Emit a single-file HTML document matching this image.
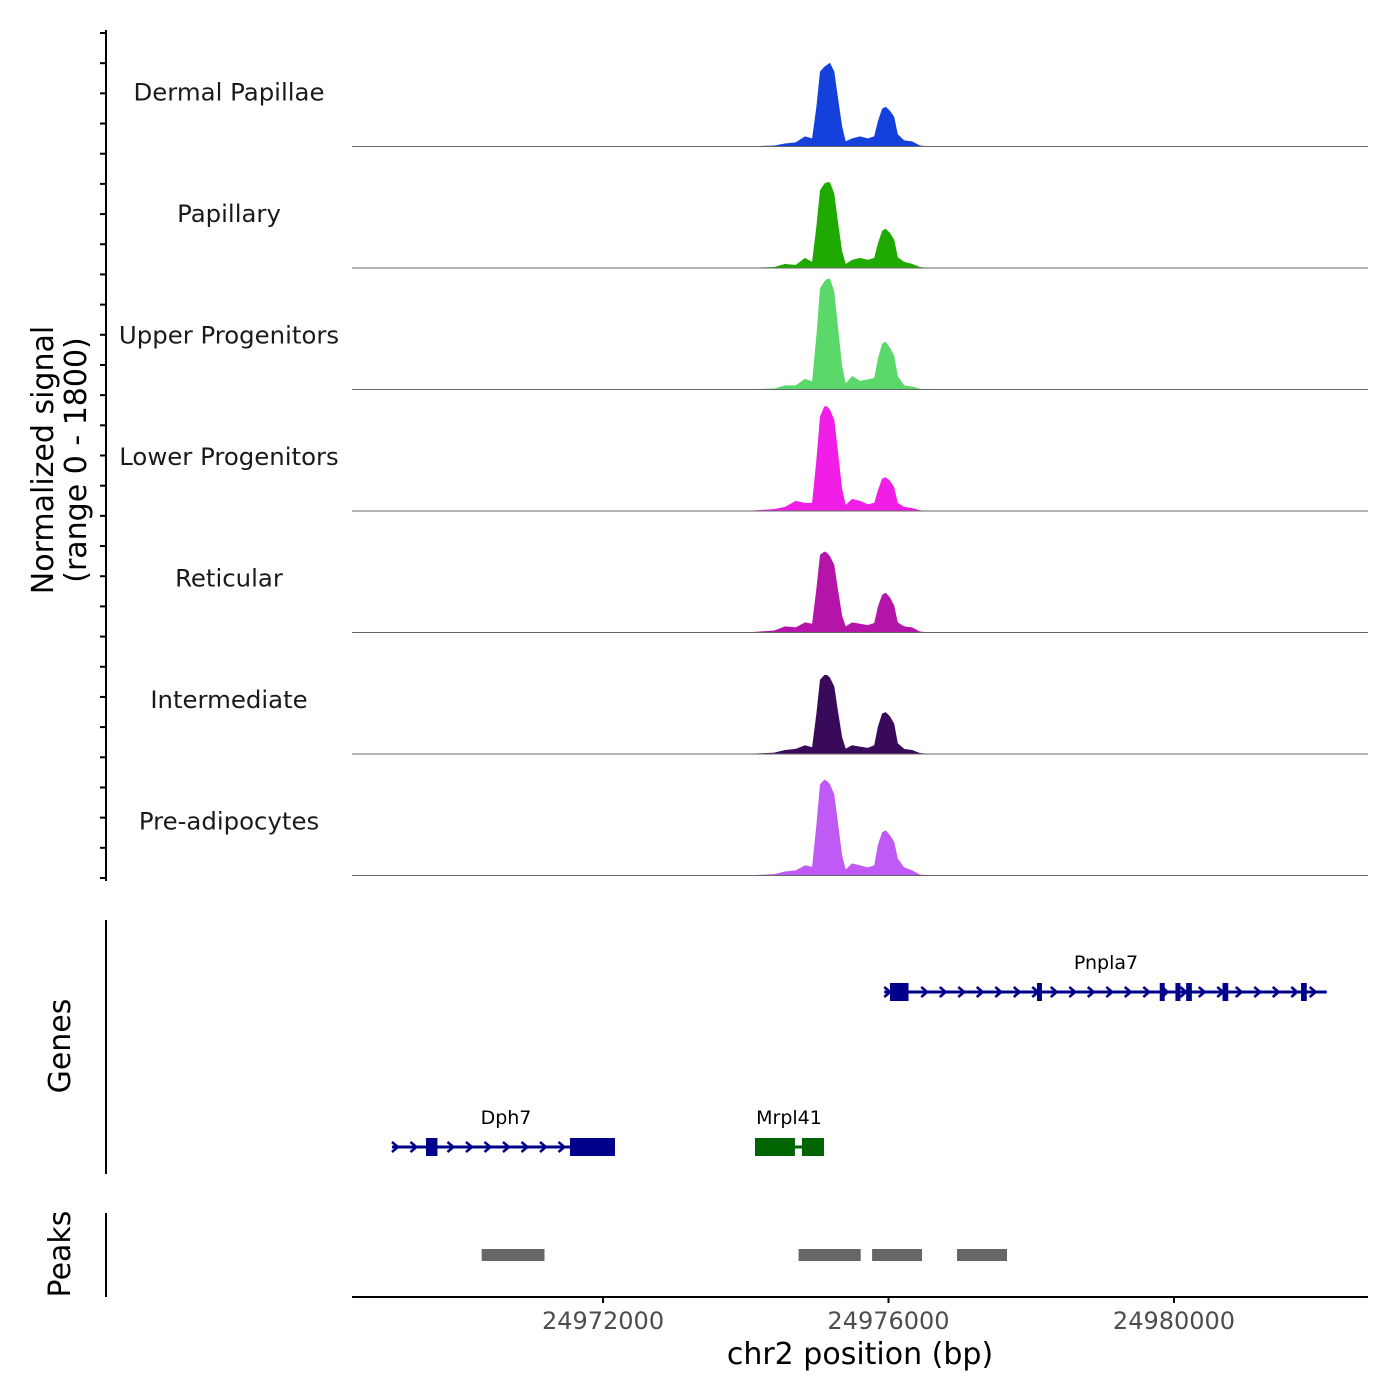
<!DOCTYPE html>
<html><head><meta charset="utf-8">
<style>
html,body{margin:0;padding:0;background:#fff;}
svg{display:block;font-family:"DejaVu Sans","Liberation Sans",sans-serif;}
</style></head>
<body>
<svg id="chart" width="1400" height="1400" viewBox="0 0 1400 1400" xmlns="http://www.w3.org/2000/svg">
<g id="tracks"></g>
<g id="genes"></g>
<g id="peaks"></g>
<g id="axes"></g>
</svg>
<script>
// ---- data ----
const xDomain = [24968483, 24982718];
const xTicks = [24972000, 24976000, 24980000];
const trackNames = ["Dermal Papillae","Papillary","Upper Progenitors","Lower Progenitors","Reticular","Intermediate","Pre-adipocytes"];
const trackColors = ["#1440dc","#1eaa00","#5ad96a","#f01ee6","#b414a8","#3a0a5a","#c05af5"];
const positions = [24968483,24974000,24974400,24974550,24974700,24974830,24974930,24974990,24975040,24975100,24975140,24975180,24975240,24975290,24975350,24975400,24975490,24975600,24975710,24975800,24975850,24975910,24975960,24976020,24976080,24976130,24976220,24976330,24976440,24976580,24982718];
const sigDermal = [0,0,15,45,60,150,120,590,1110,1180,1210,1240,1110,740,300,75,120,150,120,150,370,560,590,530,440,180,90,75,15,0,0];
const sigPapillary = [0,0,15,60,45,150,90,620,1150,1250,1270,1270,1100,700,250,60,120,150,120,150,360,550,580,520,420,160,90,60,15,0,0];
const sigUpper = [0,0,15,60,60,160,120,800,1500,1600,1640,1640,1450,950,350,90,200,130,150,170,450,680,710,620,500,200,60,45,10,0,0];
const sigLower = [0,0,30,60,150,120,120,760,1400,1550,1550,1500,1350,900,330,90,180,150,100,120,300,480,500,450,350,120,60,45,10,0,0];
const sigReticular = [0,0,30,90,75,150,130,650,1150,1200,1180,1130,1000,650,250,90,150,130,110,140,380,560,590,520,400,150,90,75,15,0,0];
const sigIntermediate = [0,0,20,60,75,130,100,600,1100,1170,1170,1130,1000,650,250,80,130,110,90,130,400,600,620,560,450,160,75,60,15,0,0];
const sigPreadipo = [0,0,20,60,75,150,130,750,1350,1420,1400,1350,1200,800,300,90,180,150,120,150,450,640,670,600,500,250,120,75,15,0,0];
const signals = [sigDermal,sigPapillary,sigUpper,sigLower,sigReticular,sigIntermediate,sigPreadipo];
const yMax = 1800;
const geneNames = ["Pnpla7","Dph7","Mrpl41"];
const geneStarts = [24975940, 24969043, 24974129];
const geneEnds = [24982140, 24972168, 24975096];
const geneRows = [0, 1, 1];
const geneExonStarts = [[24976020,24978080,24979800,24980020,24980170,24980680,24981780],[24969520,24971537],[24974129,24974787]];
const geneExonEnds = [[24976280,24978140,24979860,24980090,24980250,24980760,24981860],[24969680,24972168],[24974689,24975096]];
const peakStarts = [24970300, 24974740, 24975770, 24976960];
const peakEnds = [24971180, 24975610, 24976470, 24977660];

// ---- scales ----
const X0=352, X1=1368;
function xs(v){return X0+(v-xDomain[0])/(xDomain[1]-xDomain[0])*(X1-X0);}
const trackTop=25, trackH=121.5;
const NS="http://www.w3.org/2000/svg";
function mk(tag,attrs,parent){const e=document.createElementNS(NS,tag);for(const k in attrs)e.setAttribute(k,attrs[k]);parent.appendChild(e);return e;}

// ---- tracks ----
const gT=document.getElementById('tracks');
signals.forEach((s,i)=>{
  const base=trackTop+(i+1)*trackH;
  let d=`M${xs(positions[0])},${base}`;
  positions.forEach((p,j)=>{d+=` L${xs(p).toFixed(1)},${(base-s[j]/yMax*trackH).toFixed(1)}`;});
  d+=` L${xs(positions[positions.length-1])},${base} Z`;
  const a=mk('path',{d:d,fill:trackColors[i]},gT);
  
  
  const l=mk('line',{x1:X0,x2:X1,y1:base,y2:base,stroke:'#666',"stroke-width":1},gT);
  
  
  const t=mk('text',{x:229,y:base-46,"text-anchor":"middle","font-size":24.4,fill:"#1a1a1a"},gT);
  t.textContent=trackNames[i];
  
  
});

// ---- genes ----
const gG=document.getElementById('genes');
const rowY=[992,1147];
const geneColors=["#00008b","#00008b","#006400"];
geneNames.forEach((n,i)=>{
  const y=rowY[geneRows[i]], c=geneColors[i];
  const x1=xs(geneStarts[i]), x2=xs(geneEnds[i]);
  const ln=mk('line',{x1:x1,x2:x2,y1:y,y2:y,stroke:c,"stroke-width":3},gG);
  
  
  if(i!==2){
    for(let x=x1+4;x<x2-2;x+=18.5){
      const ch=mk('path',{d:`M${x-4},${y-5} L${x+2},${y} L${x-4},${y+5}`,fill:'none',stroke:c,"stroke-width":2.5},gG);
      
      
    }
  }
  geneExonStarts[i].forEach((es,j)=>{
    const ex=xs(es), ew=Math.max(5,xs(geneExonEnds[i][j])-ex);
    const r=mk('rect',{x:ex,y:y-9,width:ew,height:18,fill:c},gG);
    
    
  });
  const t=mk('text',{x:(x1+x2)/2,y:y-23,"text-anchor":"middle","font-size":19,fill:"#000"},gG);
  t.textContent=n;
  
  
});
gG.querySelectorAll('text')[0].setAttribute('x',1106);
gG.querySelectorAll('text')[1].setAttribute('x',506);
gG.querySelectorAll('text')[2].setAttribute('x',789);

// ---- peaks ----
const gP=document.getElementById('peaks');
peakStarts.forEach((s,i)=>{
  const r=mk('rect',{x:xs(s),y:1249,width:xs(peakEnds[i])-xs(s),height:12,fill:'#666'},gP);
  
  
});

// ---- axes ----
const gA=document.getElementById('axes');
function line(a,name){const l=mk('line',Object.assign({stroke:'#000',"stroke-width":2},a),gA);return l;}
line({x1:106,x2:106,y1:30,y2:881},'y-axis-line');
for(let k=0;k<=28;k++){const y=33+k*(845/28);line({x1:100,x2:106,y1:y,y2:y},'y-tick');}
line({x1:106,x2:106,y1:920,y2:1174},'genes-axis-line');
line({x1:106,x2:106,y1:1213,y2:1297},'peaks-axis-line');
line({x1:X0,x2:X1,y1:1297,y2:1297},'x-axis-line');
xTicks.forEach(v=>{
  line({x1:xs(v),x2:xs(v),y1:1297,y2:1303},'x-tick');
  const t=mk('text',{x:xs(v),y:1329,"text-anchor":"middle","font-size":24,fill:"#4d4d4d"},gA);
  t.textContent=String(v);
  
  
});
function txt(s,a,name){const t=mk('text',a,gA);t.textContent=s;return t;}
txt('chr2 position (bp)',{x:860,y:1364,"text-anchor":"middle","font-size":30,fill:"#000"},'x-axis-title');
txt('Normalized signal',{x:0,y:0,transform:"translate(53,460) rotate(-90)","text-anchor":"middle","font-size":30,fill:"#000"},'y-axis-title');
txt('(range 0 - 1800)',{x:0,y:0,transform:"translate(86,460) rotate(-90)","text-anchor":"middle","font-size":30,fill:"#000"},'y-axis-range');
txt('Genes',{x:0,y:0,transform:"translate(70,1046) rotate(-90)","text-anchor":"middle","font-size":30,fill:"#000"},'genes-title');
txt('Peaks',{x:0,y:0,transform:"translate(70,1254) rotate(-90)","text-anchor":"middle","font-size":30,fill:"#000"},'peaks-title');
</script>
</body></html>
